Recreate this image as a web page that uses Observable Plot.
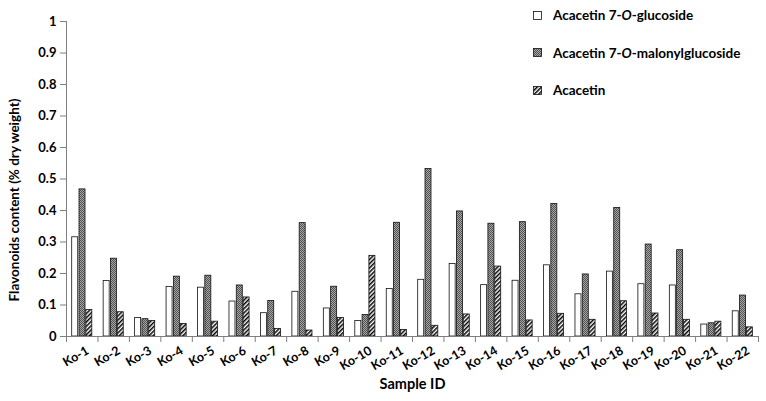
<!DOCTYPE html>
<html><head><meta charset="utf-8">
<script src="https://cdn.jsdelivr.net/npm/d3@7"></script>
<script src="https://cdn.jsdelivr.net/npm/@observablehq/plot@0.6"></script>
<style>
body{margin:0;background:#fff;}
#wrap{position:relative;width:766px;height:401px;font-family:Lato, sans-serif;}
#legend{position:absolute;left:533px;top:6px;font-weight:bold;font-size:13.5px;color:#000;}
.item{display:flex;align-items:center;height:18px;margin-bottom:19.5px;white-space:nowrap}
.item svg{margin-right:11px}
</style></head><body><div id="wrap"><div id="legend"></div></div>
<script>
const samples = ["Ko-1","Ko-2","Ko-3","Ko-4","Ko-5","Ko-6","Ko-7","Ko-8","Ko-9","Ko-10","Ko-11","Ko-12","Ko-13","Ko-14","Ko-15","Ko-16","Ko-17","Ko-18","Ko-19","Ko-20","Ko-21","Ko-22"];
const glucoside = [0.315,0.176,0.059,0.157,0.155,0.111,0.074,0.142,0.089,0.049,0.151,0.180,0.230,0.163,0.177,0.226,0.134,0.206,0.166,0.162,0.038,0.080];
const malonyl   = [0.467,0.247,0.055,0.190,0.193,0.162,0.113,0.360,0.158,0.068,0.361,0.532,0.397,0.358,0.363,0.421,0.197,0.408,0.292,0.274,0.042,0.130];
const acacetin  = [0.084,0.077,0.049,0.040,0.047,0.124,0.024,0.019,0.059,0.256,0.021,0.034,0.070,0.222,0.051,0.072,0.053,0.112,0.073,0.053,0.047,0.029];
const seriesNames = ["Acacetin 7-<i>O</i>-glucoside","Acacetin 7-<i>O</i>-malonylglucoside","Acacetin"];
const yTicks = [0,0.1,0.2,0.3,0.4,0.5,0.6,0.7,0.8,0.9,1];
const groupEdges = d3.range(samples.length + 1);

const rows = samples.map((s, i) => ({i, s, g: glucoside[i], m: malonyl[i], a: acacetin[i]}));
const fills = ["#fff", "url(#chk)", "url(#hatch)"];

const defsMark = () => {
  const d = d3.create("svg:defs");
  d.html(`
    <pattern id="chk" width="2" height="2" patternUnits="userSpaceOnUse">
      <rect width="2" height="2" fill="#a8a8a8"/>
      <rect width="1" height="1" fill="#505050"/>
      <rect x="1" y="1" width="1" height="1" fill="#505050"/>
    </pattern>
    <pattern id="hatch" width="3" height="3" patternUnits="userSpaceOnUse" patternTransform="rotate(45)">
      <rect width="3" height="3" fill="#fff"/>
      <rect width="1.5" height="3" fill="#000"/>
    </pattern>`);
  return d.node();
};

const bar = (key, fill, l, r) => Plot.rectY(rows, {
  x1: "i", x2: d => d.i + 1, y: key, fill, stroke: "#111", strokeWidth: 0.8,
  insetLeft: l, insetRight: r
});

const chart = Plot.plot({
  width: 766, height: 401,
  marginLeft: 66, marginRight: 8, marginTop: 21, marginBottom: 65,
  style: {fontFamily: "Lato, sans-serif", color: "#000", background: "#fff"},
  x: {domain: [0, samples.length], axis: null},
  y: {domain: [0, 1], axis: null},
  marks: [
    defsMark,
    bar("g", fills[0], 5.7, 19.75),
    bar("m", fills[1], 13, 12.45),
    bar("a", fills[2], 19.8, 5.65),
    Plot.ruleX([0], {y1: 0, y2: 1, stroke: "#7f7f7f", strokeWidth: 1}),
    Plot.ruleY([0], {x1: 0, x2: samples.length, stroke: "#7f7f7f", strokeWidth: 1}),
    Plot.axisY({ticks: yTicks, tickSize: 6, tickPadding: 4, stroke: "#7f7f7f", label: null,
      tickFormat: d => String(+d.toFixed(1)), fontWeight: "bold", fontSize: 13, color: "#000"}),
    Plot.axisX({ticks: groupEdges, tickSize: 6, stroke: "#7f7f7f", label: null, tickFormat: () => ""}),
    Plot.text(rows, {x: d => d.i + 0.5, y: 0, text: "s", rotate: -30, textAnchor: "end",
      lineAnchor: "top", dx: 3, dy: 9, fontWeight: "bold", fontSize: 12.5, fill: "#000"}),
    Plot.text(["Flavonoids content (% dry weight)"], {frameAnchor: "left", text: d => d,
      textAnchor: "middle", rotate: -90, dx: -52, dy: 21, fontWeight: "bold", fontSize: 13.5, fill: "#000"}),
    Plot.text(["Sample ID"], {frameAnchor: "bottom", text: d => d, dy: 52,
      fontWeight: "bold", fontSize: 14.5, fill: "#000"})
  ]
});
document.getElementById("wrap").prepend(chart);

const legend = document.getElementById("legend");
seriesNames.forEach((name, k) => {
  const item = document.createElement("div");
  item.className = "item";
  item.innerHTML = `<svg width="9" height="9"><rect x="0.5" y="0.5" width="8" height="8" fill="${fills[k]}" stroke="#111" stroke-width="0.8"/></svg><span>${name}</span>`;
  legend.appendChild(item);
});
</script></body></html>
